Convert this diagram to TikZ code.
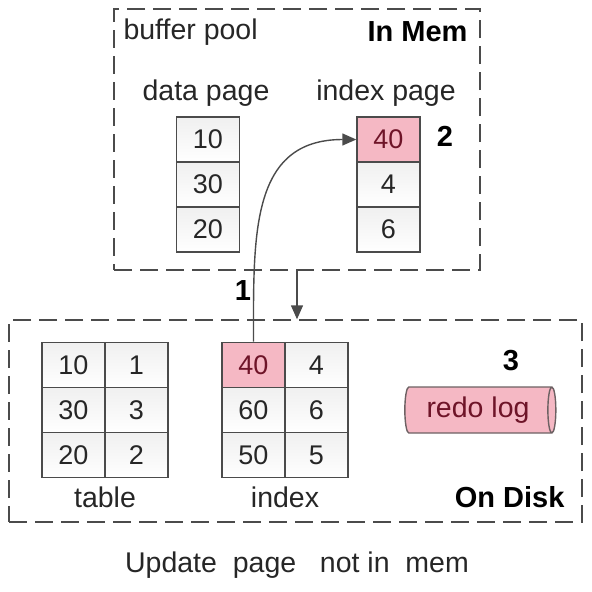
\documentclass[tikz,border=0pt]{standalone}
\usepackage{fontspec}
\setmainfont{Liberation Sans}
\usepackage{tikz}
\usetikzlibrary{matrix, arrows.meta, positioning, shapes.geometric}

\definecolor{rim}{RGB}{75,75,75}
\definecolor{hot}{RGB}{245,184,196}
\definecolor{hottext}{RGB}{110,20,40}

\tikzset{
  big/.style = {font=\fontsize{28.5}{32}\selectfont, text=black!85},
  bigb/.style = {font=\fontsize{29}{32}\selectfont\bfseries},
  cell/.style = {draw=rim, line width=1.4pt, top color=gray!12, bottom color=white,
                 minimum width=63pt, minimum height=45pt, inner sep=0pt,
                 font=\fontsize{27}{30}\selectfont, text=black!85},
  hotcell/.style = {fill=hot, top color=hot, bottom color=hot, text=hottext},
  grid/.style = {matrix of nodes, nodes={cell}, column sep=-1.4pt, row sep=-1.4pt},
  dashbox/.style = {draw=rim, line width=1.4pt, dash pattern=on 18pt off 8pt, inner sep=0pt},
  tip/.style = {-{Triangle[length=14pt, width=12pt]}, draw=rim, line width=1.4pt}
}

\begin{document}
\begin{tikzpicture}[x=1pt, y=-1pt]
\useasboundingbox (0,0) rectangle (592,592);

% the two regions
\node[dashbox, minimum width=366pt, minimum height=261pt] (mem) at (297,139.5) {};
\node[dashbox, minimum width=573pt, minimum height=202pt] (disk) at (295.5,421) {};

\node[big, anchor=west] (pool) at (120,32) {buffer pool};
\node[bigb, anchor=east] (inmem) at (471,32) {In Mem};
\node[bigb, anchor=east] (ondisk) at (568,497) {On Disk};

% pages in memory
\node[big] (dplabel) at (206,93) {data page};
\node[big] (iplabel) at (386,93) {index page};
\matrix (dp) [grid] at (208,184.5) {
10 \\
30 \\
20 \\
};
\matrix (ip) [grid] at (388.5,184.5) {
|[hotcell]| 40 \\
4 \\
6 \\
};
\node[bigb] (two) at (445,136) {2};

% data on disk
\matrix (tb) [grid] at (105,410) {
10 & 1 \\
30 & 3 \\
20 & 2 \\
};
\matrix (ix) [grid] at (285,410) {
|[hotcell]| 40 & 4 \\
60 & 6 \\
50 & 5 \\
};
\node[big] (tblabel) at (105,497) {table};
\node[big] (ixlabel) at (285,497) {index};

\node[bigb] (three) at (511,361) {3};
\node[cylinder, shape aspect=0.3, draw=rim!80!hot, line width=1.4pt, fill=hot,
      minimum width=46pt, minimum height=151pt, big, text=hottext,
      inner sep=0pt] (redo) at (478,410) {redo log};

% steps
\draw[tip] (ix-1-1.north) to[out=90, in=180, looseness=1.2] (ip-1-1.west);
\node[bigb] (one) at (243,291) {1};
\draw[tip] (mem.south) -- (mem.south |- disk.north);

\node[big] (caption) at (297,565) {Update~~page~~~not in~~mem};
\end{tikzpicture}
\end{document}
